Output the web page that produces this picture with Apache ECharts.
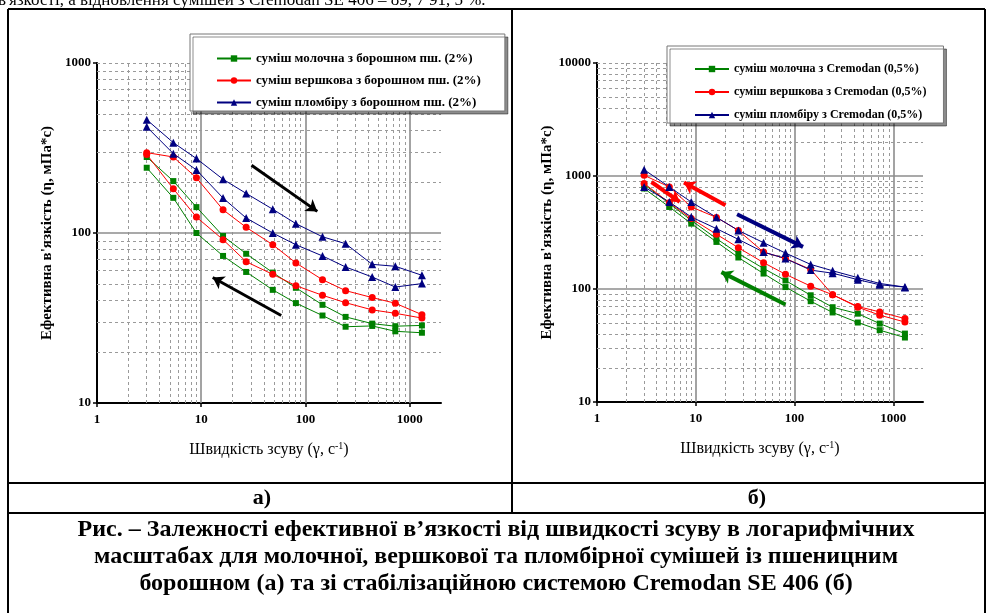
<!DOCTYPE html>
<html>
<head>
<meta charset="utf-8">
<script src="https://cdn.jsdelivr.net/npm/echarts@6/dist/echarts.min.js"></script>
<style>
  html, body { margin: 0; padding: 0; background: #fff; }
  #chart { width: 990px; height: 613px; }
</style>
</head>
<body>
<div id="chart"></div>
<script>
// shear rate steps (1/s), same for every curve
const shearRate = [3, 5.4, 9, 16.2, 27, 48.6, 81, 145.8, 243, 437.4, 729, 1312];

// a) mixes with wheat flour 2% : viscosity (mPa*s), up-curve and down-curve
const milkFlourUp = [280, 202, 142, 96, 75.5, 58.5, 47.6, 37.8, 32.1, 29.3, 28.3, 28.6];
const milkFlourDown = [242, 161, 100, 73.3, 59, 46.3, 38.7, 32.7, 28.1, 28.4, 26.4, 25.9];
const creamFlourUp = [297, 280, 211, 137, 108, 85.3, 66.7, 53.1, 45.8, 41.7, 38.6, 33.1];
const creamFlourDown = [290, 182, 124, 91.4, 67.8, 57.1, 49, 43, 38.9, 35.3, 33.7, 31.6];
const plombirFlourUp = [464, 340, 274, 207, 171, 138, 113.5, 95, 86.5, 65.4, 63.7, 56.4];
const plombirFlourDown = [421, 293, 235, 160.6, 122.5, 100, 85.3, 73.3, 63.1, 55.1, 48.1, 50.4];

// б) mixes with Cremodan 0.5%
const milkCremUp = [843, 570, 405, 279, 206, 152, 119, 88, 69, 60.5, 49.4, 40.3];
const milkCremDown = [775, 532, 379, 261, 190, 137, 104, 78, 62, 50.5, 43.2, 37.2];
const creamCremUp = [1014, 800, 532, 430, 330, 212, 186, 149, 89, 70, 62.7, 54.7];
const creamCremDown = [860, 580, 420, 305, 232, 171, 135, 106, 89, 69, 58.7, 51];
const plombirCremUp = [1137, 800, 589, 431, 330, 257, 208, 165, 145, 126, 112, 104];
const plombirCremDown = [800, 589, 434, 342, 275, 212, 186, 147, 138, 121, 109, 103];

// direction arrows, [x1, y1, x2, y2] in data units
const flourArrows = [[30.4, 250, 130, 134], [58.6, 32.7, 12.9, 54.7]];
const cremArrows = [[3.56, 885, 6.88, 589], [20, 551, 7.6, 875], [26.2, 458, 122, 236], [81, 72.8, 18.2, 141]];

// legend names
const flourNames = ['суміш молочна з борошном пш. (2%)', 'суміш вершкова з борошном пш. (2%)', 'суміш пломбіру з борошном пш. (2%)'];
const cremNames = ['суміш молочна з Cremodan (0,5%)', 'суміш вершкова з Cremodan (0,5%)', 'суміш пломбіру з Cremodan (0,5%)'];

// tick values
const xMajor = [1, 10, 100, 1000];
const yMajorFlour = [10, 100, 1000];
const yMajorCrem = [10, 100, 1000, 10000];

const serif = '"Liberation Serif", "Times New Roman", serif';
const colors = ['#008000', '#ff0000', '#000080'];
const symbols = ['rect', 'circle', 'triangle'];
const symbolSizes = [6, 7, 8];

// minor log positions 2..9 for each decade in [from, to)
function minors(from, to) {
    const out = [];
    for (let d = from; d < to; d *= 10) {
        for (let k = 2; k <= 9; k++) out.push(k * d);
    }
    return out;
}

function loop(up, down) {
    const a = up.map((v, i) => [shearRate[i], v]);
    const b = down.map((v, i) => [shearRate[i], v]).reverse();
    return a.concat(b);
}

function gridLines(idx, yTop, yMinor, yMajor) {
    const dashed = { color: '#9a9a9a', width: 1, type: [3, 3] };
    const solid = { color: '#8c8c8c', width: 1.6, type: 'solid' };
    const lines = [];
    minors(1, 1000).forEach(v => lines.push({ xAxis: v, lineStyle: dashed }));
    [10, 100, 1000].forEach(v => lines.push({ xAxis: v, lineStyle: solid }));
    yMinor.forEach(v => lines.push({ yAxis: v, lineStyle: dashed }));
    yMajor.forEach(v => lines.push({ yAxis: v, lineStyle: solid }));
    lines.push({ yAxis: yTop, lineStyle: dashed });
    return {
        type: 'line', xAxisIndex: idx, yAxisIndex: idx, data: [], z: 1,
        markLine: { silent: true, symbol: 'none', animation: false, label: { show: false }, data: lines }
    };
}

function arrows(idx, list, cols, width) {
    return {
        type: 'line', xAxisIndex: idx, yAxisIndex: idx, data: [], z: 6,
        markLine: {
            silent: true, animation: false, symbol: ['none', 'arrow'], symbolSize: 11,
            label: { show: false },
            data: list.map((a, i) => [
                { coord: [a[0], a[1]], lineStyle: { color: cols[i], width: width, type: 'solid' } },
                { coord: [a[2], a[3]] }
            ])
        }
    };
}

function dataSeries(idx, names, pairs) {
    return pairs.map((p, i) => ({
        name: names[i], type: 'line', xAxisIndex: idx, yAxisIndex: idx,
        data: loop(p[0], p[1]),
        symbol: symbols[i], symbolSize: symbolSizes[i],
        lineStyle: { width: 1, color: colors[i] },
        itemStyle: { color: colors[i] },
        z: 5, animation: false
    }));
}

const plainNumber = v => String(Math.round(v));

function xAxis(idx) {
    return {
        type: 'log', logBase: 10, min: 1, max: 2000, gridIndex: idx,
        axisLine: { lineStyle: { color: '#000', width: 2 } },
        axisTick: { length: 4, lineStyle: { color: '#000', width: 1.5 }, customValues: xMajor },
        axisLabel: { customValues: xMajor, formatter: plainNumber, color: '#000', fontFamily: serif, fontWeight: 'bold', fontSize: 13, margin: 10 },
        splitLine: { show: false },
        name: 'Швидкість зсуву (γ, с{sup|-1})',
        nameLocation: 'middle', nameGap: 38,
        nameTextStyle: {
            color: '#000', fontFamily: serif, fontSize: 16,
            rich: { sup: { fontSize: 10, fontFamily: serif, color: '#000', verticalAlign: 'top', padding: [0, 0, 8, 0] } }
        }
    };
}

function yAxis(idx, max, majors) {
    return {
        type: 'log', logBase: 10, min: 10, max: max, gridIndex: idx,
        axisLine: { show: true, lineStyle: { color: '#000', width: 2 } },
        axisTick: { show: true, length: 4, lineStyle: { color: '#000', width: 1.5 }, customValues: majors },
        axisLabel: { customValues: majors, formatter: plainNumber, color: '#000', fontFamily: serif, fontWeight: 'bold', fontSize: 13, margin: 6 },
        splitLine: { show: false },
        name: "Ефективна в'язкість (η, мПа*с)",
        nameLocation: 'middle', nameGap: 42,
        nameTextStyle: { color: '#000', fontFamily: serif, fontWeight: 'bold', fontSize: 15 }
    };
}

function legend(names, left, top, padding, size, gap) {
    return {
        data: names, orient: 'vertical', left: left, top: top, z: 20,
        backgroundColor: '#fff', borderColor: '#777', borderWidth: 1,
        shadowColor: 'rgba(0,0,0,0.45)', shadowOffsetX: 3, shadowOffsetY: 3, shadowBlur: 0,
        padding: padding, itemWidth: 34, itemHeight: 8, itemGap: gap,
        selectedMode: false,
        textStyle: { color: '#000', fontFamily: serif, fontWeight: 'bold', fontSize: size }
    };
}

function frameLine(x1, y1, x2, y2) {
    return { type: 'line', shape: { x1, y1, x2, y2 }, style: { stroke: '#000', lineWidth: 2 }, silent: true };
}

function caption(text, x, y, size, bold) {
    return {
        type: 'text', x: x, y: y, silent: true,
        style: { text: text, fill: '#000', font: (bold ? 'bold ' : '') + size + 'px ' + serif, align: 'center', verticalAlign: 'middle' }
    };
}

const chart = echarts.init(document.getElementById('chart'));
chart.setOption({
    backgroundColor: '#fff',
    animation: false,
    grid: [
        { left: 97, top: 63, width: 344, height: 340 },
        { left: 597, top: 63, width: 326, height: 339 }
    ],
    xAxis: [xAxis(0), xAxis(1)],
    yAxis: [yAxis(0, 1000, yMajorFlour), yAxis(1, 10000, yMajorCrem)],
    legend: [
        legend(flourNames, 190, 34, [18, 24, 2, 26], 13, 9),
        legend(cremNames, 667, 46, [17, 17, 2, 27], 12, 11)
    ],
    series: [
        gridLines(0, 1000, minors(10, 1000), [100]),
        gridLines(1, 10000, minors(10, 10000), [100, 1000]),
        ...dataSeries(0, flourNames, [[milkFlourUp, milkFlourDown], [creamFlourUp, creamFlourDown], [plombirFlourUp, plombirFlourDown]]),
        ...dataSeries(1, cremNames, [[milkCremUp, milkCremDown], [creamCremUp, creamCremDown], [plombirCremUp, plombirCremDown]]),
        arrows(0, flourArrows, ['#000', '#000'], 3),
        arrows(1, cremArrows, ['#ff0000', '#ff0000', '#000080', '#008000'], 4)
    ],
    graphic: [
        {
            type: 'text', x: -2, y: -8, silent: true,
            style: { text: "в'язкості, а відновлення сумішей з Cremodan SE 406 – 89, 7 91, 5 %.", fill: '#000', font: '17px ' + serif, verticalAlign: 'top' }
        },
        frameLine(8, 9, 985, 9),
        frameLine(8, 9, 8, 613),
        frameLine(985, 9, 985, 613),
        frameLine(512, 9, 512, 513),
        frameLine(8, 483, 985, 483),
        frameLine(8, 513, 985, 513),
        caption('а)', 262, 498, 22, true),
        caption('б)', 757, 498, 22, true),
        caption('Рис. – Залежності ефективної в’язкості від швидкості зсуву в логарифмічних', 496, 530, 24, true),
        caption('масштабах для молочної, вершкової та пломбірної сумішей із пшеницним', 496, 557, 24, true),
        caption('борошном (а) та зі стабілізаційною системою Cremodan SE 406 (б)', 496, 584, 24, true)
    ]
});
</script>
</body>
</html>
